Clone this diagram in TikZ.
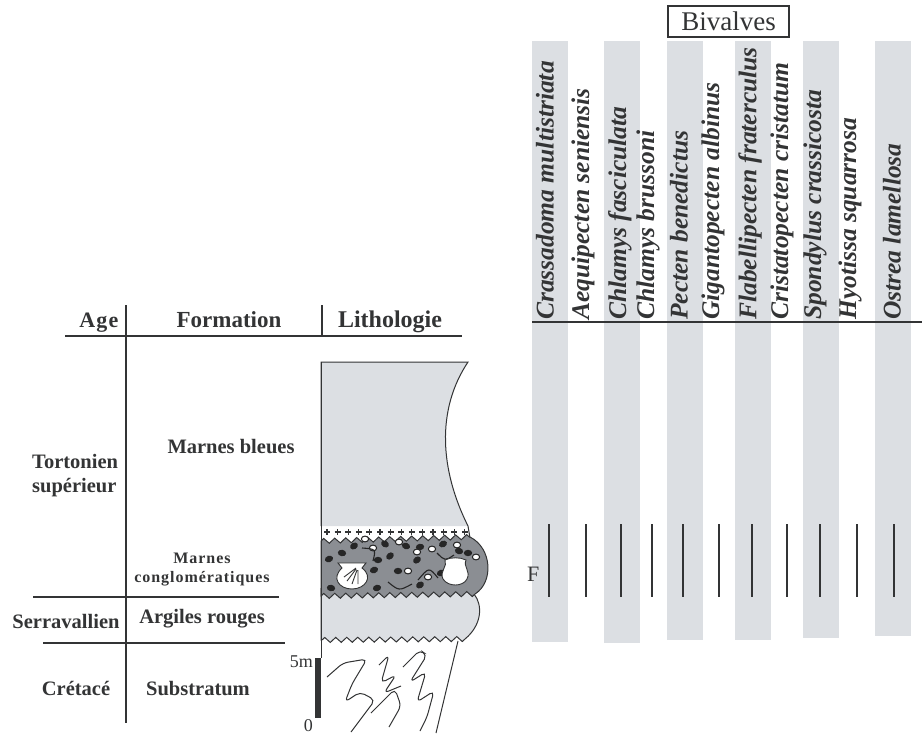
\documentclass[tikz,border=0pt]{standalone}
\usepackage{fontspec}
\setmainfont{Liberation Serif}
\usetikzlibrary{decorations.pathmorphing}
\definecolor{bandeC}{HTML}{DCDFE3}
\definecolor{conglC}{HTML}{8B8E93}
\definecolor{traitC}{HTML}{333435}
\tikzset{
  titre/.style={font=\fontsize{#1}{#1}\selectfont\bfseries, text=traitC, inner sep=0pt, anchor=base},
  etage/.style={font=\fontsize{20.5}{24}\selectfont\bfseries, text=traitC, inner sep=0pt, anchor=base},
  espece/.style={rotate=90, anchor=west, inner sep=0pt, text=traitC,
                 font=\fontsize{25.5}{25.5}\selectfont\bfseries\itshape},
  filet/.style={line width=1.3pt, draw=traitC},
  litho/.style={line width=1pt, draw=traitC},
  vague/.style={decorate, decoration={zigzag, segment length=11pt, amplitude=2.5pt}},
}
\begin{document}
\begin{tikzpicture}[x=1pt, y=-1pt]
  \useasboundingbox (0,0) rectangle (922,736);

  % bandes grises
  \foreach \xa/\yb in {532/642, 604/643, 667/640, 735/640, 803/638, 875/636}
    \fill[bandeC] (\xa,41) rectangle (\xa+36,\yb);

  \node[draw=traitC, line width=1.2pt, minimum width=121pt, minimum height=31pt, inner sep=0pt,
        text=traitC, font=\fontsize{27}{27}\selectfont] (biv) at (728.5,21.5) {Bivalves};

  \foreach \xt/\xl/\nom [count=\i] in {545/549/Crassadoma multistriata, 583/586/Aequipecten seniensis,
      620/621/Chlamys fasciculata, 648/652/Chlamys brussoni, 679/683/Pecten benedictus,
      713/719/Gigantopecten albinus, 750/752/Flabellipecten fraterculus,
      782/787/Cristatopecten cristatum, 815/820/Spondylus crassicosta,
      850/857/Hyotissa squarrosa, 892/894/Ostrea lamellosa}
  {
    \node[espece] (sp\i) at (\xt,320) {\nom};
    \draw[filet] (\xl,524) -- (\xl,597);
  }
  \draw[filet] (532,322) -- (922,322);

  % tableau
  \draw[filet] (65,336) -- (462,336);
  \draw[filet] (126,305) -- (126,723);
  \draw[filet] (322,305) -- (322,336);
  \draw[filet] (33,597) -- (279,597);
  \draw[filet] (43,643) -- (285,643);

  \node[titre=22, anchor=base east] (age) at (118.5,327) {\addfontfeature{LetterSpace=5}Age};
  \node[titre=23] (formation) at (229,327) {Formation};
  \node[titre=24] (lithologie) at (390,327) {Lithologie};

  \node[etage, anchor=base west, align=left] (tortonien) at (32,492) {Tortonien\\supérieur};
  \node[etage] (mbleues) at (231,453) {Marnes bleues};
  \node[etage, align=center, font={\fontsize{16}{19}\selectfont\bfseries\addfontfeature{LetterSpace=6}}]
    (mcongl) at (202,582) {Marnes\\conglomératiques};
  \node[etage] (serra) at (66,628) {Serravallien};
  \node[etage] (argiles) at (202,623) {Argiles rouges};
  \node[etage] (cretace) at (76,695) {Crétacé};
  \node[etage] (substratum) at (198,695) {Substratum};

  % colonne lithologique
  \path[fill=bandeC, litho] (321,526) -- (321,362) -- (468,362)
    .. controls (436,410) and (440,470) .. (468,526);
  \draw[litho] (468,526) -- (470,538);
  \foreach \i in {0,...,13}
    \draw[traitC, line width=1.1pt] (327+10.6*\i,529) -- ++(0,6) (324+10.6*\i,532) -- ++(6,0);

  \path[fill=bandeC, litho] (474,588) -- (474,594) .. controls (483,605) and (482,625) .. (465,639)
    decorate[vague]{-- (321,640)} -- (321,588);

  \path[fill=conglC, litho] (321,541) decorate[vague]{-- (470,537)}
    .. controls (492,548) and (494,582) .. (475,594) decorate[vague]{-- (321,596)} -- cycle;

  \foreach \x/\y/\r in {329/559/20, 342/553/-10, 354/546/30, 378/560/0, 390/556/40, 406/546/-20,
      420/547/10, 443/544/25, 459/551/-15, 417/560/35, 398/571/0, 374/570/20, 331/588/-10,
      377/588/15, 420/585/30, 385/544/-30, 468/553/0, 441/573/20}
    \fill[black!85, rotate around={\r:(\x,\y)}] (\x,\y) ellipse (4.2 and 3.2);
  \foreach \x/\y in {365/539, 399/542, 408/571, 417/552, 428/577, 457/545, 476/557, 373/548, 432/549}
    \filldraw[fill=white, draw=black!85, line width=1pt] (\x,\y) ellipse (3.6 and 2.9);
  \draw[black!85, line width=1.1pt]
    (362,548) .. controls (376,549) .. (373,561)
    (388,582) .. controls (399,591) .. (412,584)
    (418,580) .. controls (429,567) .. (438,578)
    (437,553) .. controls (445,561) .. (454,555);

  % coquilles
  \filldraw[fill=white, draw=traitC, line width=0.9pt] (338,563) -- (366,563) -- (362,568)
    .. controls (374,577) and (365,589) .. (352,589) .. controls (339,589) and (331,578) .. (342,568) -- cycle;
  \draw[traitC, line width=0.9pt] (356,568) -- (344,577) (356,569) -- (347,581) (357,570) -- (352,584)
    (358,570) -- (358,584);
  \filldraw[fill=white, draw=traitC, line width=0.9pt] (445,560)
    .. controls (448,566) and (439,572) .. (443,579) .. controls (448,587) and (463,587) .. (467,579)
    .. controls (471,571) and (463,567) .. (466,560) .. controls (460,557) and (451,557) .. (445,560);

  % substratum
  \draw[litho] (458,641) -- (436,733);
  \draw[litho] (321,362) -- (321,658);
  \fill[traitC] (315,658) rectangle (321,718);
  \draw[litho, rounded corners=5pt]
    (327,677) -- (343,663) -- (367,659) -- (352,684) -- (345,702) -- (360,692) -- (375,700) -- (360,720) -- (351,732)
    (379,665) -- (389,655) -- (381,683) -- (396,675) -- (384,693) -- (401,686)
    (403,667) -- (420,650) -- (427,655) -- (410,682) -- (426,672) -- (417,702) -- (434,691) -- (427,717) -- (420,731)
    (371,713) -- (395,689) -- (401,706) -- (389,727);

  \node[font=\fontsize{18}{18}\selectfont, text=traitC, inner sep=0pt, anchor=base east] (cinq) at (313,667) {5m};
  \node[font=\fontsize{18}{18}\selectfont, text=traitC, inner sep=0pt, anchor=base east] (zero) at (313,731) {0};
  \node[font=\fontsize{22}{22}\selectfont, text=traitC, inner sep=0pt, anchor=base west] (fmark) at (527,581) {F};
\end{tikzpicture}
\end{document}
